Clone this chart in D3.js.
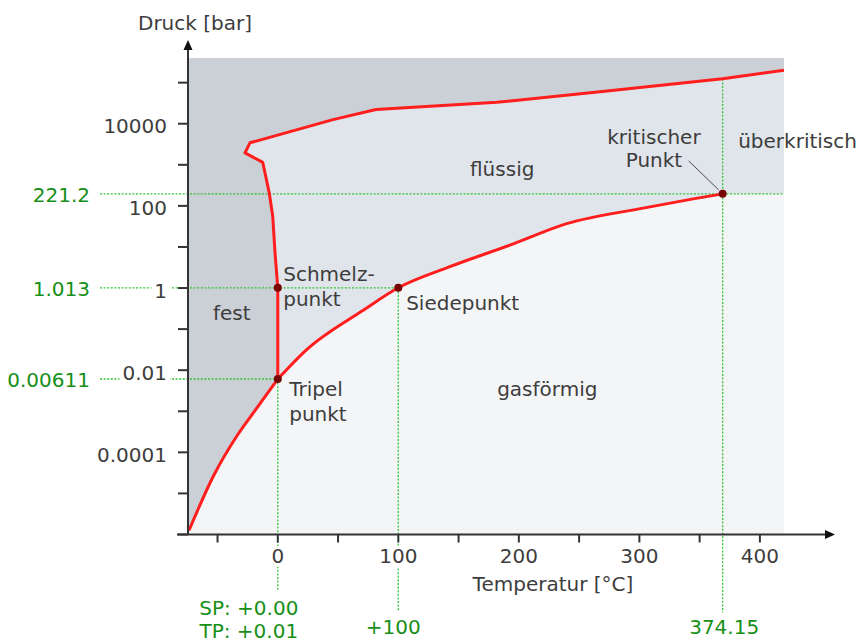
<!DOCTYPE html>
<html>
<head>
<meta charset="utf-8">
<script src="https://cdn.jsdelivr.net/npm/d3@7"></script>
<style>
body { margin: 0; background: #fff; }
text { font-family: "DejaVu Sans", sans-serif; font-size: 20px; }
</style>
</head>
<body>
<div id="chart"></div>
<script>
// Phasendiagramm Wasser, T in °C, p in bar
const sublimationCurve = [[-73.7, 1.25e-6], [-53.5, 2.62e-5], [-34.1, 2.47e-4], [-20.3, 9.2e-4], [0.01, 0.00611]];
const boilingCurve = [[0.01, 0.00611], [24, 0.0318], [70.9, 0.288], [100, 1.013], [140.1, 3.1], [195.4, 11.9],
                      [239.7, 36.9], [303.2, 88.1], [344.7, 148], [369.1, 196]];
const meltingCurve = [[0.01, 0.00611], [0, 1.013], [-2.3, 7.2], [-4.2, 56], [-7.1, 208], [-12.5, 1150],
                      [-27.2, 1950], [-23.1, 3430], [18.4, 7500], [45.8, 12600], [81.5, 22100],
                      [181.8, 33300], [267.3, 59700], [369.1, 124000], [420, 200000]];

const triplePoint = [0.01, 0.00611];
const meltPoint = [0, 1.013];
const boilPoint = [100, 1.013];
const critPoint = [369.1, 196];

const xTicks = [-50, 0, 50, 100, 150, 200, 250, 300, 350, 400];
const xTickLabels = [0, 100, 200, 300, 400];
const yTicks = [1e-6, 1e-5, 1e-4, 1e-3, 1e-2, 1e-1, 1, 10, 100, 1e3, 1e4, 1e5];
const yTickValues = [1e4, 100, 1, 0.01, 0.0001];
const yTickLabels = ["10000", "100", "1", "0.01", "0.0001"];

// green reference values
const pressureMarks = ["221.2", "1.013", "0.00611"];
const tempMarks = [["SP: +0.00", "TP: +0.01"], ["+100"], ["374.15"]];

// region / point labels: [text lines, T, p, anchor]
const regionLabels = [
    [["fest"], -38.2, 0.171, "middle"],
    [["Schmelz-", "punkt"], 4.5, 1.52, "start"],
    [["Tripel", "punkt"], 9.5, 0.00242, "start"],
    [["Siedepunkt"], 106.5, 0.288, "start"],
    [["flüssig"], 159.5, 527, "start"],
    [["gasförmig"], 182, 0.00242, "start"],
    [["kritischer", "Punkt"], 312.1, 3300, "middle"],
    [["überkritisch"], 382, 2590, "start"]
];

const W = 863, H = 644;
const tMin = -74.5, tMax = 420;
const pMin = 1e-6, pMax = Math.pow(10, 5.6);

let svg = d3.select('#chart').append('svg')
    .attr('width', W).attr('height', H)
    .style('background', 'white');

let x = d3.scaleLinear().domain([tMin, tMax]).range([188, 784]);
let y = d3.scaleLog().domain([pMin, pMax]).range([534.5, 58]);

const pt = d => [x(d[0]), y(d[1])];
const line = d3.line().x(d => x(d[0])).y(d => y(d[1]));
const smooth = d3.line().x(d => x(d[0])).y(d => y(d[1])).curve(d3.curveMonotoneX);
// continue a path
const cont = s => s.replace(/^M/, 'L');

const textCol = '#3d3d3d', green = '#178f17', dashGreen = '#33c433';

// regions: solid background, liquid above, gas on top of it
svg.append('rect')
    .attr('x', x(tMin)).attr('y', y(pMax))
    .attr('width', x(tMax) - x(tMin)).attr('height', y(pMin) - y(pMax))
    .attr('fill', '#cbcfd6');

let liquidPath = line(meltingCurve.concat([[tMax, pMin], [triplePoint[0], pMin]])) + 'Z';
svg.append('path').attr('d', liquidPath).attr('fill', '#e0e4eb');

let gasPath = smooth(sublimationCurve) + cont(smooth(boilingCurve))
    + cont(line([[tMax, critPoint[1]], [tMax, pMin], [sublimationCurve[0][0], pMin]])) + 'Z';
svg.append('path').attr('d', gasPath).attr('fill', '#f4f5f7');

// green guide lines
let guides = svg.append('g')
    .attr('stroke', dashGreen).attr('stroke-width', 1.3)
    .attr('stroke-dasharray', '2,1.6').attr('fill', 'none');

let hGuides = [[critPoint[1], tMax], [boilPoint[1], boilPoint[0]], [triplePoint[1], triplePoint[0]]];
hGuides.forEach(function(h){
    guides.append('line')
        .attr('x1', 100).attr('x2', x(h[1]))
        .attr('y1', y(h[0])).attr('y2', y(h[0]));
});
let vGuides = [[0, triplePoint[1], 56], [100, boilPoint[1], 76], [critPoint[0], 124000, 78]];
vGuides.forEach(function(v){
    guides.append('line')
        .attr('x1', x(v[0])).attr('x2', x(v[0]))
        .attr('y1', y(v[1])).attr('y2', y(pMin) + v[2]);
});

// curves
[smooth(sublimationCurve), smooth(boilingCurve), line(meltingCurve)].forEach(function(d){
    svg.append('path')
        .attr('d', d)
        .attr('fill', 'none')
        .attr('stroke', '#ff1d1d')
        .attr('stroke-width', 3)
        .attr('stroke-linejoin', 'round');
});

// leader line to critical point
let cp = pt(critPoint);
svg.append('line')
    .attr('x1', cp[0] - 34).attr('y1', cp[1] - 33)
    .attr('x2', cp[0] - 4).attr('y2', cp[1] - 4)
    .attr('stroke', '#4a4a4a').attr('stroke-width', 1);

svg.selectAll('circle.pt')
    .data([triplePoint, meltPoint, boilPoint, critPoint])
    .join('circle')
    .attr('class', 'pt')
    .attr('cx', d => x(d[0])).attr('cy', d => y(d[1]))
    .attr('r', 4)
    .attr('fill', '#780404');

// axes
let axes = svg.append('g').attr('stroke', '#333').attr('stroke-width', 2);
let x0 = x(tMin), yBase = y(pMin);
axes.append('line').attr('x1', x0 - 11).attr('x2', 827).attr('y1', yBase).attr('y2', yBase);
axes.append('line').attr('x1', x0).attr('x2', x0).attr('y1', yBase).attr('y2', 49);
svg.append('path').attr('d', `M835,${yBase}L825,${yBase - 4.5}L825,${yBase + 4.5}Z`).attr('fill', '#111');
svg.append('path').attr('d', `M${x0},40L${x0 - 4.5},50L${x0 + 4.5},50Z`).attr('fill', '#111');

axes.selectAll('line.xt').data(xTicks).join('line')
    .attr('class', 'xt')
    .attr('x1', d => x(d)).attr('x2', d => x(d))
    .attr('y1', yBase).attr('y2', yBase + 8);
axes.selectAll('line.yt').data(yTicks).join('line')
    .attr('class', 'yt')
    .attr('x1', x0 - 10).attr('x2', x0)
    .attr('y1', d => y(d)).attr('y2', d => y(d));

// label with white backing (breaks the dashed guides)
function backedText(g, tx, ty, str, anchor, col){
    let t = g.append('text')
        .attr('x', tx).attr('y', ty)
        .attr('text-anchor', anchor)
        .attr('fill', col)
        .text(str);
    let w = t.node().getComputedTextLength();
    let left = anchor == 'end' ? tx - w : (anchor == 'middle' ? tx - w / 2 : tx);
    g.insert('rect', 'text')
        .attr('x', left - 3).attr('y', ty - 17)
        .attr('width', w + 6).attr('height', 21)
        .attr('fill', 'white');
    return t;
}

let tickG = svg.append('g');
xTickLabels.forEach(function(d){
    backedText(tickG, x(d), yBase + 28.5, d, 'middle', textCol);
});
yTickValues.forEach(function(d, i){
    backedText(tickG, x0 - 21, y(d) + 9.5, yTickLabels[i], 'end', textCol);
});

svg.append('text').attr('x', 138).attr('y', 29.5).attr('fill', textCol).text('Druck [bar]');
svg.append('text').attr('x', 553).attr('y', 591).attr('text-anchor', 'middle').attr('fill', textCol).text('Temperatur [°C]');

// green value labels
hGuides.forEach(function(h, i){
    svg.append('text')
        .attr('x', 90).attr('y', y(h[0]) + 8)
        .attr('text-anchor', 'end')
        .attr('fill', green)
        .text(pressureMarks[i]);
});
let tempShift = [-29, -5, 1.5];
vGuides.forEach(function(v, i){
    tempMarks[i].forEach(function(s, j){
        svg.append('text')
            .attr('x', x(v[0]) + tempShift[i])
            .attr('y', yBase + (tempMarks[i].length > 1 ? 80 + j * 23 : 99))
            .attr('text-anchor', 'middle')
            .attr('fill', green)
            .text(s);
    });
});

// region labels
regionLabels.forEach(function(r){
    let t = svg.append('text')
        .attr('x', x(r[1])).attr('y', y(r[2]))
        .attr('text-anchor', r[3])
        .attr('fill', textCol);
    r[0].forEach(function(s, j){
        t.append('tspan')
            .attr('x', x(r[1]))
            .attr('dy', j == 0 ? 0 : (r[0][0] == 'kritischer' ? 23 : 25))
            .text(s);
    });
});
</script>
</body>
</html>
